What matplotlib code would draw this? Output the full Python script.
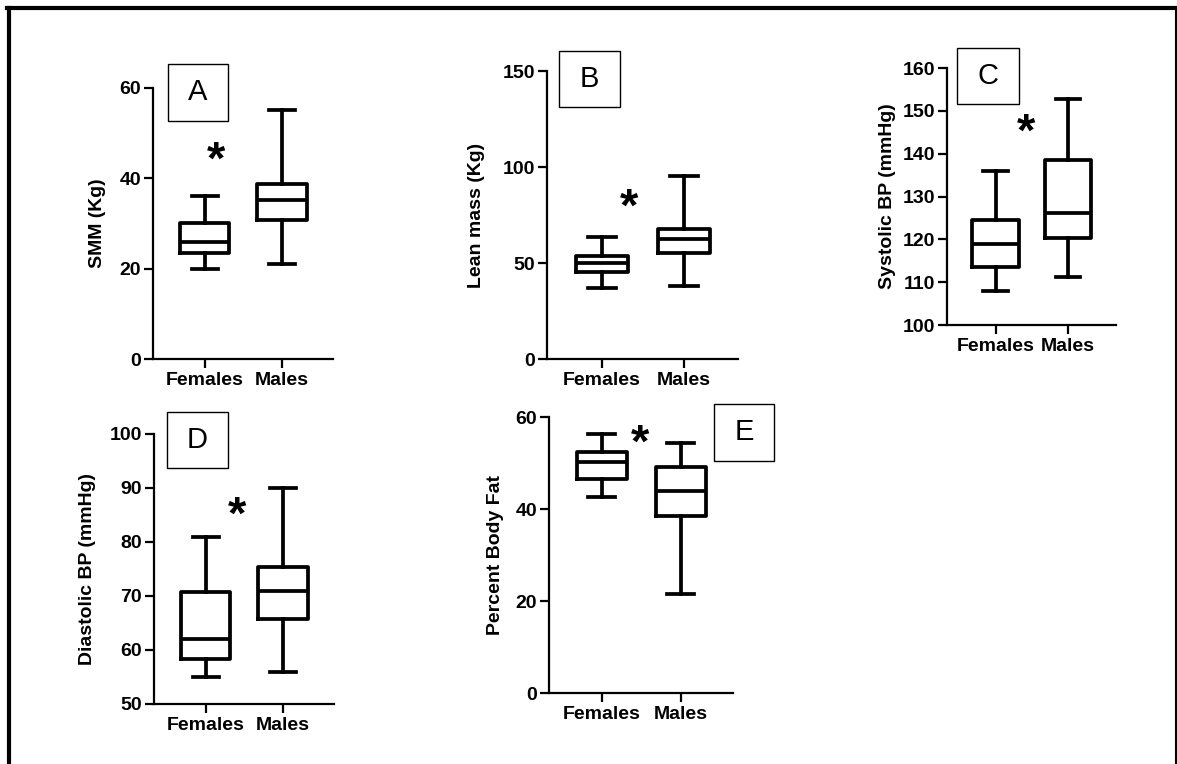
import matplotlib
matplotlib.use("Agg")
import matplotlib.pyplot as plt
from matplotlib.patches import Rectangle
from matplotlib.lines import Line2D
from matplotlib.transforms import offset_copy

plt.rcParams['font.family'] = ['Liberation Sans', 'DejaVu Sans']

W, H = 1177, 764
categories = ["Females", "Males"]

# stats: (whislo, q1, med, q3, whishi)
smm_females = [20.0, 23.4, 26.0, 30.1, 36.1]
smm_males = [21.0, 30.8, 35.1, 38.8, 55.1]
lean_females = [37.1, 45.2, 49.9, 53.9, 63.4]
lean_males = [38.1, 55.1, 62.4, 67.6, 95.4]
sys_females = [108.0, 113.5, 119.0, 124.6, 136.0]
sys_males = [111.1, 120.4, 126.2, 138.6, 152.8]
dia_females = [55.0, 58.3, 62.0, 70.7, 81.0]
dia_males = [56.0, 65.8, 71.0, 75.3, 90.0]
fat_females = [42.7, 46.6, 50.2, 52.3, 56.3]
fat_males = [21.5, 38.5, 44.0, 49.2, 54.4]

ylabels = ["SMM (Kg)", "Lean mass (Kg)", "Systolic BP (mmHg)",
           "Diastolic BP (mmHg)", "Percent Body Fat"]
panel_letters = ["A", "B", "C", "D", "E"]
yticks_list = [[0, 20, 40, 60], [0, 50, 100, 150],
               [100, 110, 120, 130, 140, 150, 160],
               [50, 60, 70, 80, 90, 100], [0, 20, 40, 60]]

panels = [
    dict(data=(smm_females, smm_males), px=(153, 333, 88, 359),
         star=(1.14, 45.6), box=(168, 228, 64, 121), lpad=10),
    dict(data=(lean_females, lean_males), px=(547, 738, 71, 359),
         star=(1.33, 82.8), box=(559, 620, 51, 107), lpad=13),
    dict(data=(sys_females, sys_males), px=(947, 1116, 68, 325),
         star=(1.42, 146.7), box=(957, 1019, 48, 104), lpad=5),
    dict(data=(dia_females, dia_males), px=(154, 334, 434, 704),
         star=(1.40, 86.3), box=(167, 228, 412, 468), lpad=10),
    dict(data=(fat_females, fat_males), px=(549, 733, 417, 693),
         star=(1.48, 55.9), box=(714, 774, 404, 461), lpad=8.5),
]

fig = plt.figure(figsize=(W / 100, H / 100), dpi=100)
FS = 14

for i, p in enumerate(panels):
    x0, x1, yt, yb = p["px"]
    ax = fig.add_axes([x0 / W, (H - yb) / H, (x1 - x0) / W, (yb - yt) / H])
    stats = []
    for vals, name in zip(p["data"], categories):
        lo, q1, med, q3, hi = vals
        stats.append(dict(whislo=lo, q1=q1, med=med, q3=q3, whishi=hi,
                          label=name, fliers=[]))
    lw = 2.7
    ax.bxp(stats, positions=[1, 2], widths=0.64, showfliers=False,
           boxprops=dict(linewidth=lw, color='black'),
           whiskerprops=dict(linewidth=lw, color='black'),
           capprops=dict(linewidth=lw, color='black'),
           medianprops=dict(linewidth=lw, color='black'),
           capwidths=0.34)
    ax.set_xlim(0.33, 2.66)
    yt_ = yticks_list[i]
    ax.set_ylim(yt_[0], yt_[-1])
    ax.set_yticks(yt_)
    ax.set_xticks([1, 2])
    ax.set_xticklabels(categories)
    for s in ['top', 'right']:
        ax.spines[s].set_visible(False)
    for s in ['left', 'bottom']:
        ax.spines[s].set_linewidth(1.6)
    ax.tick_params(width=1.6, length=6.5, labelsize=FS, pad=2)
    ax.tick_params(axis='x', pad=3)
    for lab in ax.get_xticklabels() + ax.get_yticklabels():
        lab.set_fontweight('bold')
    ax.set_ylabel(ylabels[i], fontsize=FS, fontweight='bold', labelpad=p["lpad"])
    tr = offset_copy(ax.transData, fig=fig, x=0, y=-9, units='dots')
    ax.text(p["star"][0], p["star"][1], "*", fontsize=34, fontweight='bold',
            ha='center', va='center', color='black', transform=tr)
    bx0, bx1, by0, by1 = p["box"]
    rect = Rectangle((bx0 / W, (H - by1) / H), (bx1 - bx0) / W, (by1 - by0) / H,
                     transform=fig.transFigure, fill=True, facecolor='white',
                     edgecolor='black', linewidth=1.0)
    fig.add_artist(rect)
    fig.text((bx0 + bx1) / 2 / W, (H - (by0 + by1) / 2) / H, panel_letters[i],
             fontsize=21, ha='center', va='center')

# outer border (left, top, right)
fig.add_artist(Line2D([8.5 / W, 8.5 / W], [0, 1 - 8 / H], transform=fig.transFigure,
                      color='black', linewidth=3))
fig.add_artist(Line2D([7 / W, 1176 / W], [1 - 8 / H, 1 - 8 / H], transform=fig.transFigure,
                      color='black', linewidth=3))
fig.add_artist(Line2D([1175.5 / W, 1175.5 / W], [0, 1 - 8 / H], transform=fig.transFigure,
                      color='black', linewidth=1.5))

fig.savefig("out.png", dpi=100)
